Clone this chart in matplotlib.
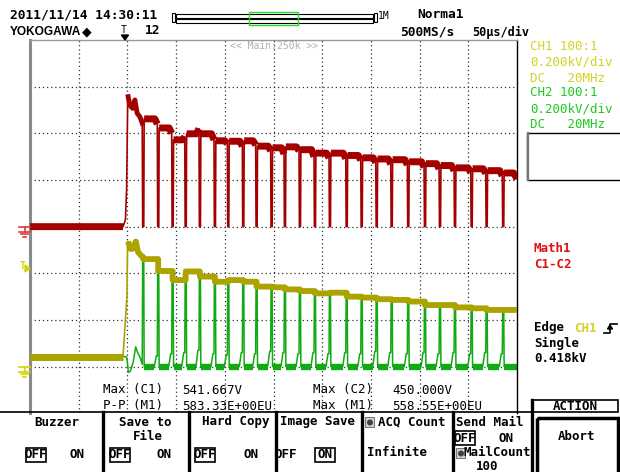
import matplotlib.pyplot as plt
from matplotlib.patches import Rectangle, Circle, Polygon
import numpy as np

# ---- waveform readings: time in us from trigger (50 us/div), volts (200 V/div) ----
spike_t = [16.2, 31.6, 46.4, 59.8, 74.4, 89.8, 103.5, 118.9, 132.6, 148.0, 161.7, 177.1,
           192.5, 207.9, 225.1, 240.5, 255.9, 271.3, 288.3, 305.5, 320.9, 336.3, 353.4,
           368.8, 385.8]
# CH1 level after each switching spike
ch1_level = [461, 410, 371, 408, 386, 364, 371, 364, 343, 340, 331, 324, 314, 317,
             300, 296, 289, 286, 279, 264, 264, 254, 250, 243, 243]
# Math1 (C1-C2) level at start / end of each interval
m1_start = [462, 423, 372, 398, 398, 368, 366, 368, 345, 338, 342, 330, 315, 315,
            305, 295, 290, 287, 278, 270, 262, 252, 248, 240, 230]
m1_end = [440, 400, 385, 420, 372, 358, 345, 350, 325, 312, 325, 300, 295, 292,
          285, 275, 268, 265, 255, 248, 240, 232, 228, 218, 205]
# CH2 ringing bump just before each spike
ch2_bump = [0, 45, 55, 60, 70, 55, 50, 60, 55, 65, 60, 55, 60, 55, 60, 55, 65, 60,
            55, 60, 55, 60, 55, 60, 55]

# start-up transient around the trigger
ch1_edge_t = [-100, -4.5, -0.5, 0.2, 0.8, 3.0, 5.3, 8.7, 11.0, 15.6]
ch1_edge_v = [43, 43, 300, 536, 536, 505, 505, 536, 490, 470]
m1_edge_t = [-100, -4.5, -2.0, -0.8, 0.3, 0.8, 2.6, 5.3, 7.7, 10.0, 12.8, 15.2]
m1_edge_v = [0, 0, 30, 165, 540, 557, 520, 507, 543, 486, 471, 443]
ch2_edge_t = [-100, -1.0, 0.0, 1.0, 3.0, 6.0, 8.5, 10.5, 13.0, 15.2]
ch2_edge_v = [43, 43, 20, -25, -20, 20, 85, 60, 40, 10]
t_stop = 400

VDIV = 200.0
RED = '#a40000'
YEL = '#aaa300'
GRN = '#12aa12'
T_YEL = '#d2d226'
T_GRN = '#1ec81e'
T_RED = '#e01010'
MONO = 'DejaVu Sans Mono'


def main():
    # ---- build trace vertices from readings ----
    c1_t, c1_v = list(ch1_edge_t), list(ch1_edge_v)
    c2_t, c2_v = list(ch2_edge_t), list(ch2_edge_v)
    m1_t, m1_v = list(m1_edge_t), list(m1_edge_v)
    m1_band_t, m1_band_v = [-100, -4.5, np.nan], [0, 0, np.nan]
    c2_band_t, c2_band_v = [], []

    prev_c1 = ch1_edge_v[-1]
    for k, tb in enumerate(spike_t):
        nxt = spike_t[k + 1] if k + 1 < len(spike_t) else None
        # CH1: step at each spike
        c1_t += [tb, tb]
        c1_v += [prev_c1, ch1_level[k]]
        # CH2: bump, then narrow pulse up to CH1
        if k > 0:
            c2_t += [tb - 4, tb - 2, tb - 0.9]
            c2_v += [0, ch2_bump[k], ch2_bump[k]]
        c2_t += [tb - 0.5, tb + 0.6, tb + 1.0]
        c2_v += [prev_c1, ch1_level[k], 0]
        # Math1: flat top, droop, then narrow dip to zero
        if k > 0:
            m1_t += [tb - 3.5, tb - 0.9]
            m1_v += [m1_start[k - 1], m1_end[k - 1]]
        m1_t += [tb - 0.5, tb + 0.6, tb + 1.0]
        m1_v += [0, 0, m1_start[k]]
        if nxt:
            m1_band_t += [tb + 1.0, nxt - 3.5, nxt - 0.9, np.nan]
            m1_band_v += [m1_start[k], m1_start[k], m1_end[k], np.nan]
        else:
            m1_band_t += [tb + 1.0, t_stop - 3.5, t_stop, np.nan]
            m1_band_v += [m1_start[k], m1_start[k], m1_end[k], np.nan]
        c2_end = nxt - 4 if nxt else t_stop
        c2_band_t += [tb + 1.0, c2_end, np.nan]
        c2_band_v += [0, 0, np.nan]
        prev_c1 = ch1_level[k]
    c1_t.append(t_stop); c1_v.append(ch1_level[-1])
    m1_t += [t_stop - 3.5, t_stop]; m1_v += [m1_start[-1], m1_end[-1]]
    c2_t.append(t_stop); c2_v.append(0)

    def dv(v, off):
        return off + np.array(v, dtype=float) / VDIV

    fig = plt.figure(figsize=(6.2, 4.72), dpi=100)
    fig.patch.set_facecolor('white')

    # ---- scope screen ----
    sc = fig.add_axes([30 / 620, 1 - 413.3 / 472, 487 / 620, 373.3 / 472])
    sc.set_xlim(-100, 400)
    sc.set_ylim(-4, 4)
    sc.set_xticks([])
    sc.set_yticks([])
    sc.spines['bottom'].set_visible(False)
    sc.spines['left'].set_color('#8a8a8a')
    sc.spines['left'].set_linewidth(2.2)
    sc.spines['top'].set_color('#9a9a9a')
    sc.spines['top'].set_linewidth(1.0)
    sc.spines['right'].set_color('black')
    sc.spines['right'].set_linewidth(1.0)
    for x in np.arange(-50, 400, 50):
        sc.axvline(x, color='#303030', lw=0.9, ls=(0, (1, 2.3)), zorder=1)
    for y in range(-3, 4):
        sc.axhline(y, color='#303030', lw=0.9, ls=(0, (1, 2.3)), zorder=1)

    # CH2 (green) under CH1
    sc.plot(c2_t, dv(c2_v, -3), color=GRN, lw=1.1, zorder=2)
    sc.plot(c2_band_t, dv(c2_band_v, -3), color=GRN, lw=4.6, solid_capstyle='butt', zorder=2)
    # CH1 (yellow)
    c1_arr = dv(c1_v, -3)
    sc.plot(c1_t, c1_arr, color=YEL, lw=1.2, zorder=3)
    sc.plot(c1_t[:2], c1_arr[:2], color=YEL, lw=5, solid_capstyle='butt', zorder=3)
    sc.plot(c1_t[4:], c1_arr[4:], color=YEL, lw=4.2, solid_capstyle='butt', zorder=3)
    # Math1 (red)
    sc.plot(m1_t, dv(m1_v, 0), color=RED, lw=1.2, zorder=3)
    sc.plot(m1_edge_t[5:], dv(m1_edge_v[5:], 0), color=RED, lw=3.5, zorder=3)
    sc.plot(m1_band_t, dv(m1_band_v, 0), color=RED, lw=5, solid_capstyle='butt', zorder=3)

    # ---- overlay in pixel coordinates ----
    ov = fig.add_axes([0, 0, 1, 1])
    ov.set_xlim(0, 620)
    ov.set_ylim(472, 0)
    ov.axis('off')
    ov.patch.set_visible(False)

    def txt(x, y, s, size=9, color='black', weight='normal', ha='left', family=MONO):
        ov.text(x, y, s, fontsize=size, color=color, fontweight=weight, ha=ha,
                va='center', family=family)

    # header
    txt(10, 15, '2011/11/14 14:30:11', size=9.3, weight='bold')
    txt(10, 32, 'YOKOGAWA', size=8.6, weight='bold', family='Liberation Sans')
    txt(82, 32, '\u25c6', size=9, family='DejaVu Sans')
    txt(124, 30, 'T', size=7, ha='center')
    ov.add_patch(Polygon([[121.5, 35], [128.5, 35], [125, 40]], closed=True, color='black'))
    txt(145, 31, '12', size=9.3, weight='bold')
    ov.add_patch(Rectangle((172, 13), 3, 9, fill=False, ec='black', lw=0.8))
    ov.add_patch(Rectangle((176, 14), 197, 3.5, fill=False, ec='black', lw=0.8))
    ov.add_patch(Rectangle((176, 19), 197, 3.5, fill=False, ec='black', lw=0.8))
    ov.add_patch(Rectangle((373.5, 13), 3, 9, fill=False, ec='black', lw=0.8))
    ov.add_patch(Rectangle((249, 12), 49, 13, fill=False, ec='#22dd22', lw=1.0))
    txt(378, 16, '1M', size=7)
    txt(417, 15, 'Norma1', size=9.3, weight='bold')
    txt(400, 32, '500MS/s', size=9.3, weight='bold')
    txt(472, 32, '50\u00b5s/div', size=8.6, weight='bold')
    txt(230, 46, '<< Main:250k >>', size=7, color='#b0b0b0')

    # channel info panel
    txt(530, 46, 'CH1 100:1', color=T_YEL)
    txt(530, 62, '0.200kV/div', color=T_YEL)
    txt(530, 78, 'DC   20MHz', color=T_YEL)
    txt(530, 93, 'CH2 100:1', color=T_GRN)
    txt(530, 109, '0.200kV/div', color=T_GRN)
    txt(530, 124, 'DC   20MHz', color=T_GRN)
    ov.add_patch(Rectangle((527, 133), 95, 47, fill=False, ec='black', lw=1.0))
    ov.plot([527.5, 527.5], [133, 180], color='#777777', lw=1.6)
    txt(534, 249, 'Math1', color=T_RED, weight='bold')
    txt(534, 265, 'C1-C2', color=T_RED, weight='bold')
    txt(534, 328, 'Edge', weight='bold')
    txt(574, 328, 'CH1', color=T_YEL, weight='bold')
    ov.plot([604, 610, 610, 617], [333, 333, 324, 324], color='black', lw=1.2)
    ov.add_patch(Polygon([[607.5, 329], [612.5, 329], [610, 325]], closed=True, color='black'))
    txt(534, 343, 'Single', weight='bold')
    txt(534, 358, '0.418kV', weight='bold')

    # left-side level markers
    for lvl, col in [(226.7, '#e03838'), (366.7, '#d4d400')]:
        ov.plot([19, 30], [lvl, lvl], color=col, lw=1.2)
        ov.plot([24.5, 24.5], [lvl, lvl + 5], color=col, lw=1.2)
        ov.plot([19, 30], [lvl + 5, lvl + 5], color=col, lw=1.2)
        ov.plot([21, 28], [lvl + 7.5, lvl + 7.5], color=col, lw=1.2)
        ov.plot([23, 26], [lvl + 10, lvl + 10], color=col, lw=1.2)
    txt(20, 266, 'T', size=7, color='#d4d400', weight='bold')
    ov.add_patch(Polygon([[25, 265], [25, 272], [30, 268.5]], closed=True, color='#d4d400'))

    # measurements
    txt(103, 390, 'Max (C1)')
    txt(182, 390, '541.667V')
    txt(103, 406, 'P-P (M1)')
    txt(182, 406, '583.33E+00EU')
    txt(313, 390, 'Max (C2)')
    txt(392, 390, '450.000V')
    txt(313, 406, 'Max (M1)')
    txt(392, 406, '558.55E+00EU')

    # soft-key menu
    ov.plot([0, 531], [412, 412], color='black', lw=1.2)
    for x in [103, 189, 276, 362, 453]:
        ov.plot([x, x], [412, 472], color='black', lw=2.4)
    ov.plot([531.5, 531.5], [400, 472], color='black', lw=2.4)
    ov.add_patch(Rectangle((532, 400), 86, 12, fill=False, ec='black', lw=1.2))
    ov.add_patch(Rectangle((537, 418), 81, 56, fill=False, ec='black', lw=2.5))
    txt(575, 406, 'ACTION', weight='bold', ha='center')
    txt(577, 437, 'Abort', weight='bold', ha='center')

    txt(57, 422, 'Buzzer', weight='bold', ha='center')
    txt(145, 422, 'Save to', weight='bold', ha='center')
    txt(148, 437, 'File', weight='bold', ha='center')
    txt(236, 422, 'Hard Copy', weight='bold', ha='center')
    txt(318, 422, 'Image Save', weight='bold', ha='center')
    txt(412, 422, 'ACQ Count', weight='bold', ha='center')
    txt(490, 422, 'Send Mail', weight='bold', ha='center')

    for cx, cy in [(36, 455), (120, 455), (205, 455), (325, 455), (465, 438)]:
        ov.add_patch(Rectangle((cx - 10, cy - 7), 20, 14, fill=False, ec='black', lw=1.2))
    for cx, cy, s in [(36, 455, 'OFF'), (77, 455, 'ON'), (120, 455, 'OFF'), (164, 455, 'ON'),
                      (205, 455, 'OFF'), (251, 455, 'ON'), (286, 455, 'OFF'), (325, 455, 'ON'),
                      (465, 438, 'OFF'), (506, 438, 'ON')]:
        txt(cx, cy, s, weight='bold', ha='center')
    txt(397, 453, 'Infinite', weight='bold', ha='center')
    txt(497, 453, 'MailCount', weight='bold', ha='center')
    txt(487, 467, '100', weight='bold', ha='center')
    for ix, iy in [(365, 417), (456, 448)]:
        ov.add_patch(Rectangle((ix, iy), 9, 10, fc='#d0d0d0', ec='#606060', lw=0.6))
        ov.add_patch(Circle((ix + 5, iy + 5.5), 3, fc='#404040', ec='none'))

    fig.savefig('out.png', dpi=100, facecolor='white')


if __name__ == '__main__':
    main()
